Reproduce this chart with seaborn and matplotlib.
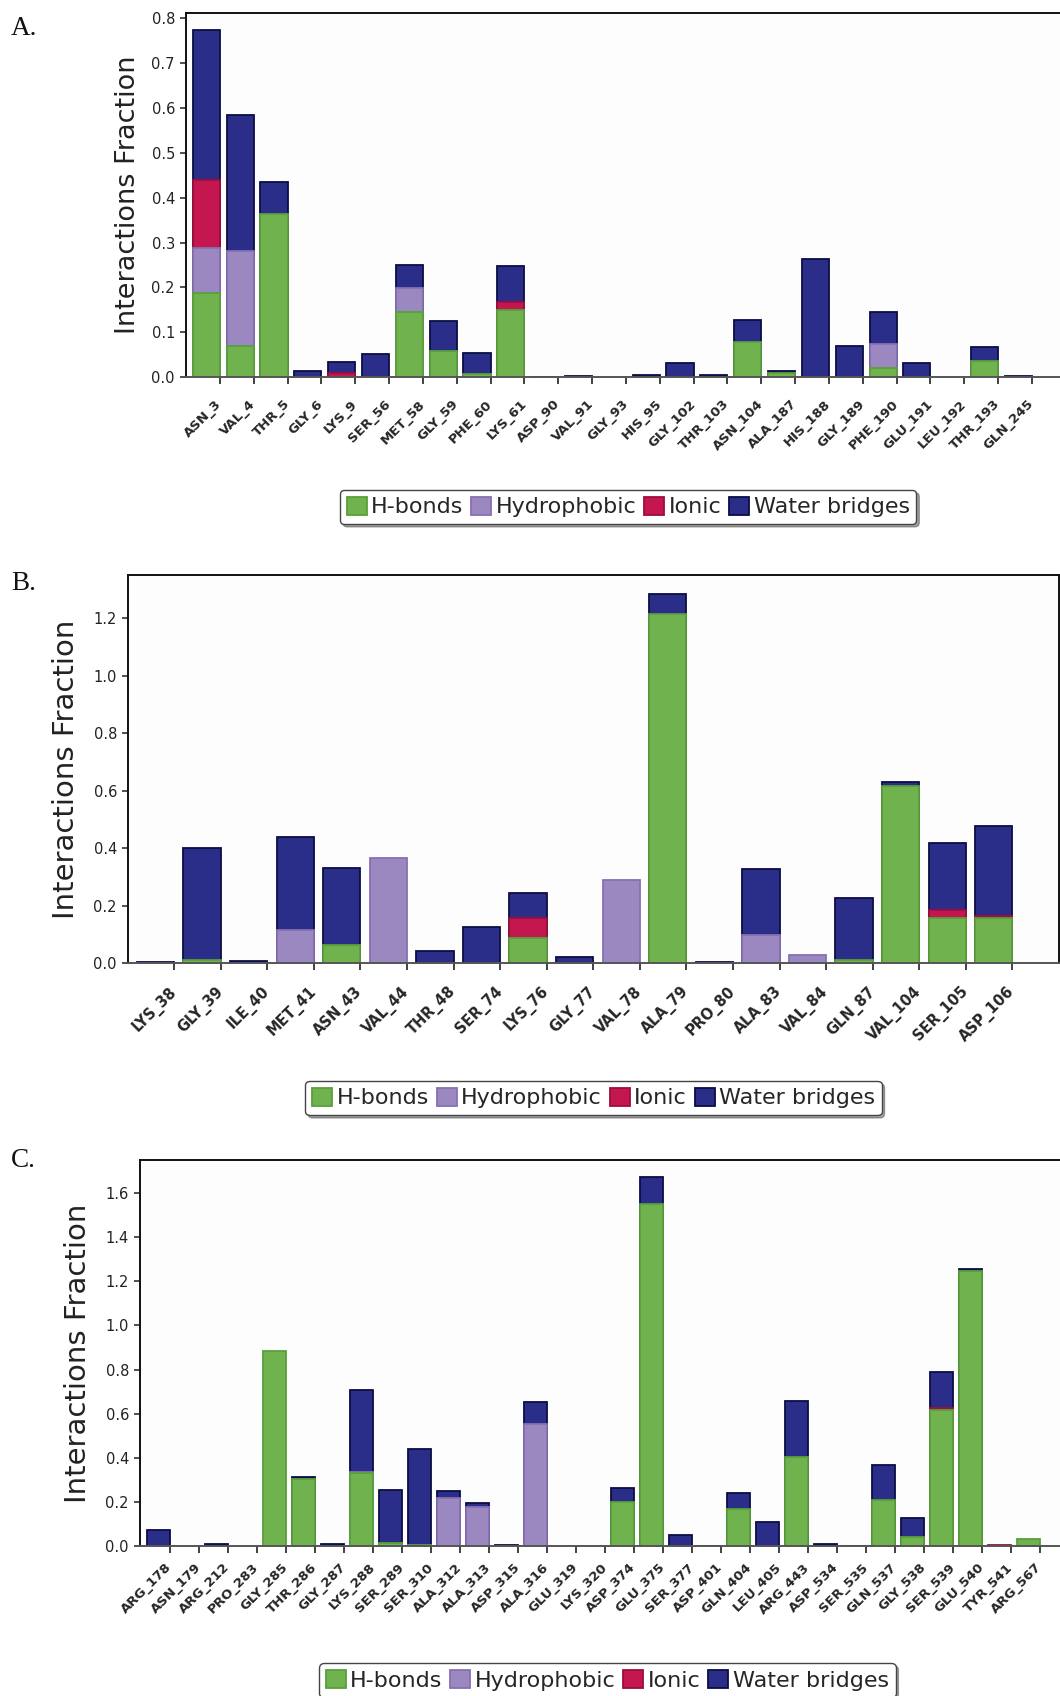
import numpy as np
import pandas as pd
import matplotlib
matplotlib.use('Agg')
import matplotlib.pyplot as plt
import seaborn as sns

# ---- data (fraction of simulation time) ----
res_a = ['ASN_3', 'VAL_4', 'THR_5', 'GLY_6', 'LYS_9', 'SER_56', 'MET_58', 'GLY_59', 'PHE_60',
         'LYS_61', 'ASP_90', 'VAL_91', 'GLY_93', 'HIS_95', 'GLY_102', 'THR_103', 'ASN_104',
         'ALA_187', 'HIS_188', 'GLY_189', 'PHE_190', 'GLU_191', 'LEU_192', 'THR_193', 'GLN_245']
hb_a  = [0.188, 0.070, 0.363, 0, 0, 0, 0.145, 0.059, 0.007, 0.150, 0, 0, 0, 0, 0, 0, 0.079,
         0.008, 0, 0, 0.020, 0, 0, 0.035, 0]
hyd_a = [0.100, 0.211, 0, 0, 0, 0, 0.054, 0, 0, 0, 0, 0, 0, 0, 0, 0, 0,
         0, 0, 0, 0.053, 0, 0, 0, 0]
ion_a = [0.151, 0, 0, 0, 0.009, 0, 0, 0, 0, 0.018, 0, 0, 0, 0, 0, 0, 0,
         0, 0, 0, 0, 0, 0, 0, 0]
wat_a = [0.335, 0.304, 0.071, 0.014, 0.024, 0.051, 0.051, 0.066, 0.046, 0.079, 0.001, 0.002, 0,
         0.005, 0.031, 0.005, 0.048, 0.006, 0.263, 0.069, 0.073, 0.031, 0, 0.031, 0.003]

res_b = ['LYS_38', 'GLY_39', 'ILE_40', 'MET_41', 'ASN_43', 'VAL_44', 'THR_48', 'SER_74', 'LYS_76',
         'GLY_77', 'VAL_78', 'ALA_79', 'PRO_80', 'ALA_83', 'VAL_84', 'GLN_87', 'VAL_104',
         'SER_105', 'ASP_106']
hb_b  = [0, 0.012, 0, 0, 0.062, 0, 0, 0, 0.088, 0, 0, 1.215, 0, 0, 0, 0.012, 0.615, 0.155, 0.155]
hyd_b = [0, 0, 0, 0.116, 0, 0.365, 0, 0, 0, 0, 0.287, 0, 0, 0.097, 0.027, 0, 0, 0, 0]
ion_b = [0, 0, 0, 0, 0, 0, 0, 0, 0.067, 0, 0, 0, 0, 0, 0, 0, 0, 0.029, 0.007]
wat_b = [0.002, 0.388, 0.008, 0.321, 0.268, 0, 0.042, 0.125, 0.088, 0.020, 0, 0.068, 0.002,
         0.231, 0, 0.215, 0.013, 0.233, 0.314]

res_c = ['ARG_178', 'ASN_179', 'ARG_212', 'PRO_283', 'GLY_285', 'THR_286', 'GLY_287', 'LYS_288',
         'SER_289', 'SER_310', 'ALA_312', 'ALA_313', 'ASP_315', 'ALA_316', 'GLU_319', 'LYS_320',
         'ASP_374', 'GLU_375', 'SER_377', 'ASP_401', 'GLN_404', 'LEU_405', 'ARG_443', 'ASP_534',
         'SER_535', 'GLN_537', 'GLY_538', 'SER_539', 'GLU_540', 'TYR_541', 'ARG_567']
hb_c  = [0, 0, 0, 0, 0.883, 0.305, 0, 0.330, 0.014, 0.003, 0, 0, 0, 0, 0, 0, 0.200, 1.551, 0, 0,
         0.169, 0, 0.402, 0, 0, 0.209, 0.040, 0.616, 1.246, 0, 0.032]
hyd_c = [0, 0, 0, 0, 0, 0, 0, 0.005, 0, 0, 0.217, 0.177, 0, 0.555, 0, 0, 0, 0, 0, 0,
         0, 0, 0, 0, 0, 0, 0, 0, 0, 0, 0]
ion_c = [0, 0, 0, 0, 0, 0, 0, 0, 0, 0, 0, 0, 0, 0, 0, 0, 0, 0, 0, 0,
         0, 0, 0, 0, 0, 0, 0, 0.008, 0, 0.005, 0]
wat_c = [0.072, 0, 0.008, 0, 0, 0.008, 0.010, 0.371, 0.242, 0.436, 0.032, 0.016, 0.004, 0.096,
         0, 0, 0.062, 0.121, 0.048, 0.002, 0.072, 0.108, 0.254, 0.008, 0.002, 0.158, 0.085,
         0.167, 0.008, 0, 0]

kinds = ['H-bonds', 'Hydrophobic', 'Ionic', 'Water bridges']
fills = {'H-bonds': '#6fb24e', 'Hydrophobic': '#9c88c1', 'Ionic': '#c4174f', 'Water bridges': '#2a2e88'}
edges = {'H-bonds': '#58a03c', 'Hydrophobic': '#8670b2', 'Ionic': '#9e0d3d', 'Water bridges': '#0b0d45'}

sns.set_theme(style='ticks')
plt.rcParams['font.family'] = ['DejaVu Sans']


def draw_panel(ax, residues, hb, hyd, ion, wat, ymax, yticks, xlim, xfs, xpad, ylfs, leg_xy, right_spine):
    df = pd.DataFrame({'residue': residues, 'H-bonds': hb, 'Hydrophobic': hyd,
                       'Ionic': ion, 'Water bridges': wat})
    cum = df[kinds].cumsum(axis=1)
    # stacked look: draw cumulative heights back to front
    for k in kinds[::-1]:
        d = pd.DataFrame({'residue': df['residue'], 'val': cum[k].where(df[k] > 0)})
        sns.barplot(data=d, x='residue', y='val', order=residues, color=fills[k],
                    edgecolor=edges[k], linewidth=1.3, width=0.8, saturation=1,
                    errorbar=None, label=k, ax=ax)
    n = len(residues)
    ax.set_xlim(*xlim)
    ax.set_ylim(0, ymax)
    ax.set_xticks(np.arange(n) + 0.4)
    ax.set_xticklabels(residues, rotation=45, ha='right', va='center', rotation_mode='anchor',
                       fontsize=xfs, fontweight='bold')
    ax.set_yticks(yticks)
    ax.set_yticklabels(['{:.1f}'.format(t) for t in yticks], fontsize=10.5, color='#222222')
    ax.tick_params(axis='x', direction='out', length=5, width=1.3, color='#333333', pad=xpad)
    ax.tick_params(axis='y', direction='out', length=4, width=1.2, color='#333333', pad=4)
    ax.set_xlabel('')
    ax.set_ylabel('Interactions Fraction', fontsize=ylfs, color='#222222')
    ax.yaxis.set_label_coords(-0.052, 0.5)
    ax.set_facecolor('#fdfdfe')
    for s in ['top', 'left', 'right']:
        ax.spines[s].set_color('#111111')
        ax.spines[s].set_linewidth(1.4)
    ax.spines['bottom'].set_color('#555555')
    ax.spines['bottom'].set_linewidth(1.4)
    ax.spines['right'].set_visible(right_spine)

    handles, labels = ax.get_legend_handles_labels()
    lookup = dict(zip(labels, handles))
    leg = ax.legend([lookup[k] for k in kinds], kinds, loc='center', bbox_to_anchor=leg_xy,
                    ncol=4, fontsize=16, handlelength=0.9, handleheight=0.9, handletextpad=0.2,
                    columnspacing=0.35, borderpad=0.3, borderaxespad=0, frameon=True,
                    fancybox=True, shadow=True)
    leg.get_frame().set_edgecolor('#444444')
    leg.get_frame().set_linewidth(1.0)


fig = plt.figure(figsize=(10.6, 16.96), dpi=100)
ax_a = fig.add_axes([0.1755, 0.7777, 0.8245, 0.2146])
ax_b = fig.add_axes([0.1208, 0.4322, 0.8783, 0.2288])
ax_c = fig.add_axes([0.1321, 0.0884, 0.8679, 0.2279])

draw_panel(ax_a, res_a, hb_a, hyd_a, ion_a, wat_a, 0.812, np.arange(0, 0.81, 0.1),
           (-0.6, 25.23), 9.5, 13, 19.5, (0.506, -0.357), False)
draw_panel(ax_b, res_b, hb_b, hyd_b, ion_b, wat_b, 1.35, np.arange(0, 1.21, 0.2),
           (-0.59, 19.4), 10.5, 14, 21, (0.50, -0.348), True)
draw_panel(ax_c, res_c, hb_c, hyd_c, ion_c, wat_c, 1.752, np.arange(0, 1.61, 0.2),
           (-0.63, 31.09), 9.5, 9, 21, (0.508, -0.347), False)

for lbl, ybase in [('A.', 35), ('B.', 590), ('C.', 1167)]:
    fig.text(11 / 1060, 1 - ybase / 1696, lbl, family=['Liberation Serif', 'DejaVu Serif'],
             fontsize=19.5, va='baseline', ha='left', color='#111111')

fig.savefig('out.png', dpi=100)
